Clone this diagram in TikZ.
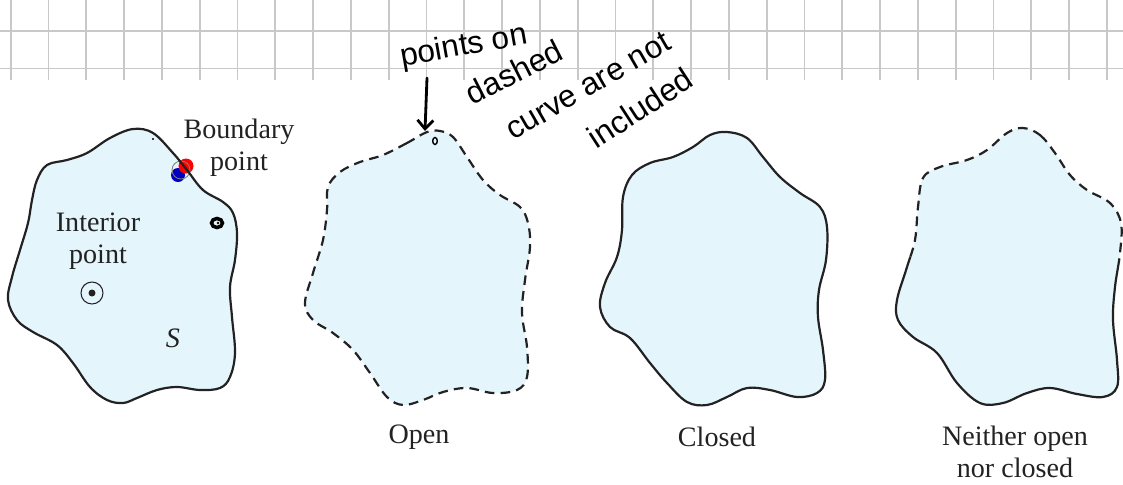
\documentclass[tikz,border=0pt]{standalone}
\usepackage{fontspec}
\setmainfont{Liberation Serif}
\newfontfamily\handfont{Liberation Sans}
\usetikzlibrary{arrows.meta}
\definecolor{regionfill}{HTML}{E4F5FC}
\definecolor{gridgray}{HTML}{C8C8C8}
\definecolor{ink}{HTML}{222222}
\tikzset{
  >=latex,  % default arrows
  % regions and their edges
  region/.style={fill=regionfill,draw=ink,line width=1.25pt},
  edge solid/.style={draw=ink,line width=1.25pt},
  edge open/.style={draw=ink,line width=1.25pt,dash pattern=on 5.5pt off 3.5pt},
  blob/.style={smooth cycle,tension=0.6},
  % grid of the notebook
  grid line/.style={gridgray,line width=1pt},
  % texts
  lbl/.style={font=\fontsize{16}{18}\selectfont,text=ink,align=center,inner sep=0pt},
  hand/.style={font=\handfont\fontsize{18}{18}\selectfont,inner sep=0pt},
  hand line/.style={line width=1.6pt,line cap=round,line join=round}
}

\begin{document}
\begin{tikzpicture}[x=0.02cm,y=-0.02cm]
        \useasboundingbox (0,0) rectangle (1123,484);
        % notebook grid
        \foreach \gx in {0,...,29}{
          \draw[grid line] (10.7+37.8*\gx,0) -- (10.7+37.8*\gx,80);
        }
        \foreach \gy in {30.7,68.5}{
          \draw[grid line] (0,\gy) -- (1123,\gy);
        }
        % region S
        \path[save path=\outlineS] plot[blob] coordinates {(28,223) (32,200) (37,180) (47,165)
          (67,160) (87,153) (110,138) (133,129) (153,133) (173,153) (187,170) (203,190)
          (223,202) (233,213) (237,233) (235,260) (230,287) (232,317) (235,353) (230,377)
          (220,388) (200,390) (177,387) (157,390) (137,398) (123,403) (107,400) (90,387)
          (73,363) (57,345) (33,332) (17,320) (8,300) (12,277) (20,250)};
        \fill[regionfill,use path=\outlineS];
        \fill[blue!75!black] (178,175) circle (7);
        \fill[red] (186,166) circle (7.5);
        \draw[gray,line width=0.5pt] (181,170) circle (9);
        \draw[edge solid,use path=\outlineS];
        \fill (153,139) circle (1.2);
        \draw[line width=2pt] (217,223) ellipse (5.5 and 4.5);
        \fill (218,223) circle (1.3);
        \draw[ink,line width=0.6pt] (92,293) circle (11);
        \fill[ink] (92,293) circle (3.5);
        \node[lbl] (boundary) at (239,148) {Boundary\\point};
        \node[lbl] (interior) at (98,241) {Interior\\point};
        \node[lbl,font=\fontsize{16}{18}\selectfont\itshape] (setS) at (173,338) {S};
        % open region
        \draw[fill=regionfill,edge open] plot[blob] coordinates {(427,132) (407,143) (383,155)
          (360,162) (340,172) (328,187) (327,210) (323,240) (313,273) (305,303) (313,320)
          (333,333) (353,350) (370,373) (387,397) (403,405) (423,400) (443,392) (467,388)
          (493,393) (517,390) (527,377) (527,347) (522,313) (525,280) (530,247) (528,223)
          (520,207) (500,195) (483,180) (467,157) (453,137) (440,131)};
        \node[lbl] (open) at (419,437) {Open};
        % closed region
        \draw[region] plot[blob] coordinates {(727,132) (747,138) (763,157) (780,177)
          (800,193) (820,207) (827,227) (826,260) (819,290) (818,317) (823,350) (825,380)
          (817,393) (797,397) (770,390) (747,388) (727,397) (707,405) (687,402) (667,383)
          (650,363) (630,338) (610,327) (600,307) (605,283) (617,257) (622,230) (623,197)
          (632,175) (650,163) (673,157) (693,147) (710,135)};
        \node[lbl] (closed) at (717,437) {Closed};
        % neither open nor closed
        \path[save path=\outlineN] plot[blob] coordinates {(1023,128) (1040,135) (1055,153)
          (1070,175) (1087,190) (1110,203) (1121,223) (1120,253) (1115,287) (1113,320)
          (1117,360) (1117,387) (1103,397) (1077,394) (1050,388) (1027,393) (1003,403)
          (980,403) (957,383) (937,353) (913,337) (898,320) (897,300) (907,267) (915,240)
          (918,207) (923,178) (940,167) (967,160) (987,150) (1007,133)};
        \fill[regionfill,use path=\outlineN];
        \begin{scope}
          \clip (870,100) -- (1123,100) -- (1123,259) -- (870,256) -- cycle;
          \draw[edge open,use path=\outlineN];
        \end{scope}
        \begin{scope}
          \clip (870,256) -- (1123,259) -- (1123,420) -- (870,420) -- cycle;
          \draw[edge solid,use path=\outlineN];
        \end{scope}
        \node[lbl] (neither) at (1015,452) {Neither open\\nor closed};
        % handwritten note
        \node[hand,rotate=10] (note1) at (464,47) {points on};
        \node[hand,rotate=27] (note2) at (514,72) {dashed};
        \node[hand,rotate=30] (note3) at (588,86) {curve are not};
        \node[hand,rotate=33] (note4) at (640,108) {included};
        \coordinate (arrowtop) at (427,78);
        \coordinate (arrowtip) at (425,131);
        \draw[hand line,-{Straight Barb[length=5pt,width=9pt]}] (arrowtop) -- (arrowtip);
        \draw[line width=0.8pt] (435,141) ellipse (2.3 and 3.5);
      \end{tikzpicture}
\end{document}
